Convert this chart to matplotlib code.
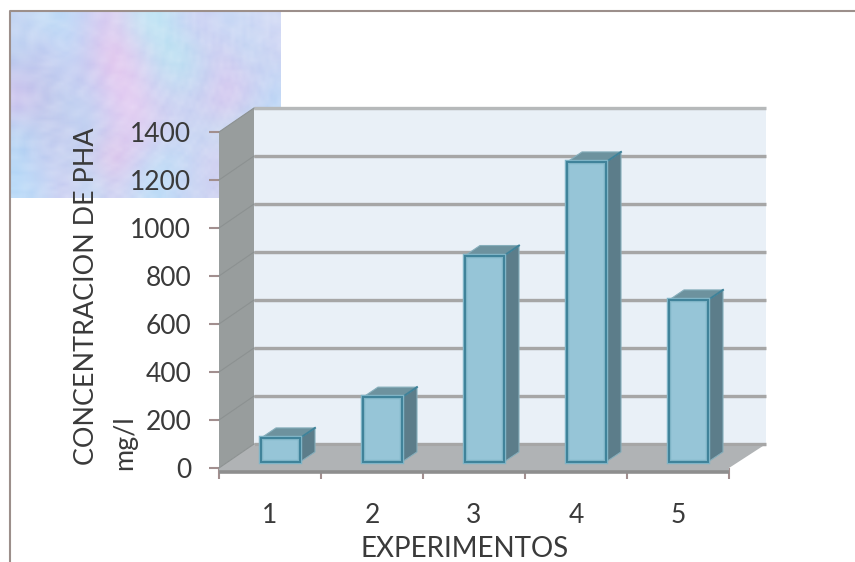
import numpy as np
import matplotlib
matplotlib.use("Agg")
import matplotlib.pyplot as plt
from matplotlib.colors import to_rgb

plt.rcParams['font.family'] = ['Lato', 'DejaVu Sans']

# Chart content
experiments = ['1', '2', '3', '4', '5']
pha_mg_l = [100, 270, 860, 1250, 675]
y_ticks = [0, 200, 400, 600, 800, 1000, 1200, 1400]
y_title_main = 'CONCENTRACION DE PHA'
y_title_unit = 'mg/l'
x_title = 'EXPERIMENTOS'

# Pastel marble swatches for the corner panel
marble = [
    ['#bccff2', '#c0dcf6', '#b6d6f7', '#c8cbf2', '#dcc6ef', '#c6e0f4', '#b8e6f3', '#c0d4f4', '#ccccf3', '#c2d8f5', '#c8d4f4', '#cfd8f5'],
    ['#b4ccef', '#c2c6f0', '#bcd6f6', '#c8c4ef', '#e8c2ec', '#d4c8f0', '#bcdff2', '#b2e2f0', '#c4d0f2', '#ccc8f0', '#bcd8f3', '#c8cef2'],
    ['#c2c0ec', '#b6c2ea', '#c4cdf2', '#c2c6f0', '#e2c4ee', '#e0c8f0', '#c4d2f2', '#bedef3', '#bcd0f1', '#d6c6f0', '#cccaf0', '#c0d4f4'],
    ['#d0c2ee', '#bcc0e8', '#bad0f0', '#bcccf1', '#dac8f2', '#e8caf2', '#cccaf0', '#c8d0f2', '#c8c8f0', '#d8c4ee', '#c6caf0', '#b8d4f6'],
    ['#b4d2f2', '#bccaee', '#c2c6ee', '#b8d2f2', '#d0c6ee', '#dec8f0', '#d0caf0', '#c4cef2', '#c0d4f2', '#c8dcf2', '#b8dcee', '#b0d2f6'],
    ['#aed2f5', '#c2c8f0', '#c0d2f0', '#c6caee', '#e6c0e8', '#d0c6f0', '#bedcf5', '#bcd8f5', '#cccef2', '#d0caee', '#c0d8f2', '#b8d8f6'],
    ['#b4d8f8', '#bed4f5', '#cec8f0', '#bcdcf4', '#d0caf0', '#c4d8f5', '#b4dcf8', '#c0d2f4', '#c6d0f2', '#cdccf0', '#c0d2f2', '#c8d4f4'],
]

W, H = 855, 562
fig = plt.figure(figsize=(W / 100, H / 100), dpi=100, facecolor='white')


def box(x0, y0, x1, y1):
    """Figure-fraction rectangle from top-left pixel corners."""
    return [x0 / W, 1 - y1 / H, (x1 - x0) / W, (y1 - y0) / H]


# Marble panel behind the top-left of the chart
panel = fig.add_axes(box(11, 12, 280, 198), zorder=0)
panel.imshow([[to_rgb(c) for c in row] for row in marble], aspect='auto',
             interpolation='bicubic', extent=(0, 1, 0, 1))
# Pale mottling over the colour field, built from interfering waves
gx, gy = np.meshgrid(np.arange(70), np.arange(48))
waves = (np.sin(gx * 0.97 + gy * 0.41) + np.sin(gx * 0.33 - gy * 1.13)
         + np.sin((gx * gx + gy * gy) * 0.029) + np.sin(gx * 1.7 * np.sin(gy * 0.23)))
mottle = np.ones(gx.shape + (4,))
mottle[..., 3] = 0.26 * (waves - waves.min()) / (waves.max() - waves.min())
panel.imshow(mottle, aspect='auto', interpolation='bilinear', extent=(0, 1, 0, 1))
panel.axis('off')

# Slide frame: top and left rules only
fig.add_artist(plt.Line2D([9.5 / W, 9.5 / W, 1], [0, 1 - 11 / H, 1 - 11 / H],
                          color='#9c8f8b', lw=1.5, transform=fig.transFigure))

ax = fig.add_axes(box(219, 132, 729, 468), zorder=1)
ax.patch.set_visible(False)
ax.set_xlim(0, 5)
ax.set_ylim(0, 1400)
for spine in ax.spines.values():
    spine.set_visible(False)

# Oblique projection of the chart box, in data units
DEPTH_X = 35 / 102
DEPTH_Y = 100
top = y_ticks[-1]

# Back wall, side wall, floor
ax.fill([DEPTH_X, 5 + DEPTH_X + 0.02, 5 + DEPTH_X + 0.02, DEPTH_X],
        [DEPTH_Y, DEPTH_Y, top + DEPTH_Y, top + DEPTH_Y], color='#e9f0f7', clip_on=False, zorder=1, lw=0)
ax.fill([0, DEPTH_X, DEPTH_X, 0], [0, DEPTH_Y, top + DEPTH_Y, top],
        color='#989d9d', clip_on=False, zorder=2, lw=0)
ax.fill([0, DEPTH_X, 5 + DEPTH_X + 0.02, 5], [0, DEPTH_Y, DEPTH_Y, 0],
        color='#b0b3b5', clip_on=False, zorder=2, lw=0)
ax.fill([0, 5, 5, 0], [0, 0, -20, -20], color='#b0b3b5', clip_on=False, zorder=2, lw=0)
ax.plot([0, 5], [-16, -16], color='#8e8e8e', lw=2.6, clip_on=False, zorder=3, solid_capstyle='butt')

# Gridlines on the back wall with their faint trace on the side wall
for v in y_ticks:
    shade = '#b6b9ba' if v == top else '#a6a6a6'
    ax.plot([DEPTH_X, 5 + DEPTH_X + 0.02], [v + DEPTH_Y - 6, v + DEPTH_Y - 6], color='#c4c8cc', lw=1.6,
            clip_on=False, zorder=2.2, solid_capstyle='butt')
    ax.plot([DEPTH_X, 5 + DEPTH_X + 0.02], [v + DEPTH_Y, v + DEPTH_Y], color=shade, lw=2.4,
            clip_on=False, zorder=2.3, solid_capstyle='butt')
    ax.plot([0, DEPTH_X], [v, v + DEPTH_Y], color='#8c9191', lw=0.8, clip_on=False, zorder=2.4)

# Columns
FACE, SIDE, LID, EDGE = '#96c5d7', '#5c7d8a', '#6d929e', '#3f8299'
BAR_W = 39 / 102
BASE = 25
BAR_DX = 15 / 102
BAR_DY = 42
centers = np.arange(len(experiments)) + 0.5
for cx, val in zip(centers, pha_mg_l):
    x0 = cx - 0.5 + 42 / 102
    x1 = x0 + BAR_W
    t = BASE + val
    ax.fill([x1, x1 + BAR_DX, x1 + BAR_DX, x1], [BASE, BASE + BAR_DY, t + BAR_DY, t],
            facecolor=SIDE, edgecolor='#86aebb', lw=0.8, clip_on=False, zorder=4)
    ax.fill([x0, x0 + BAR_DX, x1 + BAR_DX, x1], [t, t + BAR_DY, t + BAR_DY, t],
            facecolor=LID, edgecolor='#86aebb', lw=0.8, clip_on=False, zorder=4)
    ax.plot([x1, x1 + BAR_DX], [t, t + BAR_DY], color=EDGE, lw=1.4, clip_on=False, zorder=4.5)
    ax.bar(x0, val, width=BAR_W, bottom=BASE, align='edge', facecolor=FACE,
           edgecolor='#7fb4c6', lw=3.2, clip_on=False, zorder=4.8)
    ax.bar(x0, val, width=BAR_W, bottom=BASE, align='edge', facecolor='none',
           edgecolor=EDGE, lw=1.4, clip_on=False, zorder=5)

# Axes ticks and labels
TICK = '#a28f8f'
TXT = '#3a3a3a'
ax.set_yticks(y_ticks)
ax.set_yticklabels([str(v) for v in y_ticks], fontsize=19, color=TXT)
ax.tick_params(axis='y', length=7, width=1.5, color=TICK, pad=13)
ax.set_xticks(np.arange(6))
ax.set_xticklabels([])
ax.tick_params(axis='x', which='major', length=8, width=1.5, color=TICK)
ax.set_xticks(centers, minor=True)
ax.set_xticklabels(experiments, minor=True, fontsize=19, color=TXT)
ax.tick_params(axis='x', which='minor', length=0, pad=25)

# Two-line vertical title, both lines starting near the chart floor
fig.text(87 / W, 1 - 465 / H, y_title_main, rotation=90, ha='center', va='bottom', fontsize=19.4, color=TXT)
fig.text(125 / W, 1 - 470 / H, y_title_unit, rotation=90, ha='center', va='bottom', fontsize=19.4, color=TXT)
fig.text(465 / W, 1 - 549 / H, x_title, ha='center', va='center', fontsize=20, color=TXT)

fig.savefig('out.png', dpi=100)
